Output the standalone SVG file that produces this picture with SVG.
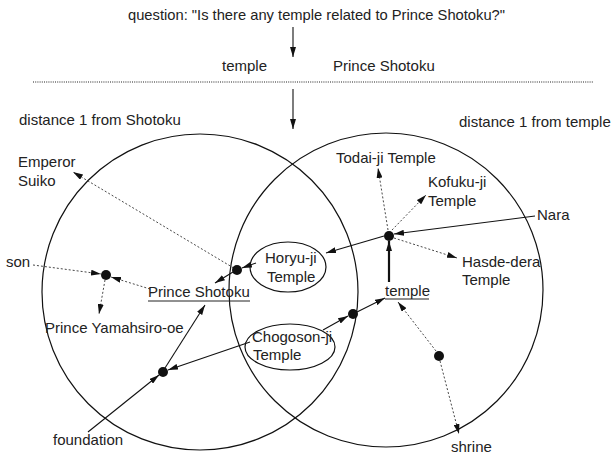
<svg xmlns="http://www.w3.org/2000/svg" width="613" height="456" viewBox="0 0 613 456">
<style>
text{font-family:"Liberation Sans",Arial,sans-serif;font-size:15px;fill:#222}
.c{fill:none;stroke:#111;stroke-width:1.2}
.s{fill:none;stroke:#111;stroke-width:1.1}
.d{fill:none;stroke:#333;stroke-width:0.9;stroke-dasharray:2,2}
.t{fill:none;stroke:#111;stroke-width:2.2}
.dot{fill:#111}
.u{stroke:#222;stroke-width:1}
</style>
<defs>
<marker id="a" viewBox="0 0 10 6" refX="10" refY="3" markerWidth="10" markerHeight="6" markerUnits="userSpaceOnUse" orient="auto"><path d="M0,0L10,3L0,6z" fill="#111"/></marker>
</defs>
<rect width="613" height="456" fill="#fff"/>
<g id="header">
<text x="128" y="20" textLength="377" lengthAdjust="spacingAndGlyphs">question: "Is there any temple related to Prince Shotoku?"</text>
<text x="222" y="71">temple</text>
<text x="333" y="71">Prince Shotoku</text>
<line x1="33" y1="82" x2="593" y2="82" stroke="#222" stroke-width="1.2" stroke-dasharray="1,1.2"/>
<text x="19" y="125">distance 1 from Shotoku</text>
<text x="459" y="127">distance 1 from temple</text>
</g>
<g id="circles">
<circle class="c" cx="200" cy="292" r="158"/>
<circle class="c" cx="386" cy="290" r="157"/>
</g>
<g id="connectors">
<line class="s" x1="293" y1="27" x2="293" y2="57" marker-end="url(#a)"/>
<line class="s" x1="293" y1="89" x2="293" y2="129" marker-end="url(#a)"/>
<line class="d" x1="237" y1="270" x2="73" y2="172" marker-end="url(#a)"/>
<line class="s" x1="256" y1="263" x2="242" y2="268" marker-end="url(#a)"/>
<line class="s" x1="233" y1="272" x2="215" y2="283" marker-end="url(#a)"/>
<line class="s" x1="535" y1="216" x2="394" y2="234" marker-end="url(#a)"/>
<line class="s" x1="384" y1="236" x2="326" y2="253" marker-end="url(#a)"/>
<line class="t" x1="389" y1="282" x2="389" y2="241" marker-end="url(#a)"/>
<line class="d" x1="388" y1="230" x2="378" y2="168" marker-end="url(#a)"/>
<line class="d" x1="392" y1="230" x2="426" y2="195" marker-end="url(#a)"/>
<line class="d" x1="394" y1="238" x2="457" y2="258" marker-end="url(#a)"/>
<line class="d" x1="33" y1="265" x2="101" y2="274" marker-end="url(#a)"/>
<line class="d" x1="150" y1="289" x2="111" y2="277" marker-end="url(#a)"/>
<line class="d" x1="105" y1="280" x2="99" y2="314" marker-end="url(#a)"/>
<line class="s" x1="165" y1="368" x2="205" y2="305" marker-end="url(#a)"/>
<line class="s" x1="250" y1="342" x2="168" y2="370" marker-end="url(#a)"/>
<line class="s" x1="88" y1="432" x2="159" y2="375" marker-end="url(#a)"/>
<line class="s" x1="323" y1="330" x2="348" y2="316" marker-end="url(#a)"/>
<line class="s" x1="357" y1="312" x2="385" y2="298" marker-end="url(#a)"/>
<line class="d" x1="436" y1="351" x2="398" y2="302" marker-end="url(#a)"/>
<line class="d" x1="440" y1="361" x2="459" y2="434" marker-end="url(#a)"/>
</g>
<g id="emperor-suiko">
<text x="18" y="167">Emperor</text>
<text x="18" y="186">Suiko</text>
</g>
<g id="horyu-dot"><circle class="dot" cx="237" cy="270" r="5"/></g>
<g id="horyu-ji">
<ellipse class="c" cx="288" cy="267" rx="38" ry="25"/>
<text x="265" y="263">Horyu-ji</text>
<text x="267" y="282">Temple</text>
</g>
<g id="prince-shotoku">
<text x="148" y="297">Prince Shotoku</text>
<line class="u" x1="148" y1="301" x2="250" y2="301"/>
</g>
<g id="nara-dot"><circle class="dot" cx="389" cy="236" r="5"/></g>
<g id="nara"><text x="537" y="220">Nara</text></g>
<g id="temple">
<text x="385" y="296">temple</text>
<line class="u" x1="385" y1="299" x2="429" y2="299"/>
</g>
<g id="todai-ji"><text x="336" y="163">Todai-ji Temple</text></g>
<g id="kofuku-ji">
<text x="428" y="187">Kofuku-ji</text>
<text x="428" y="206">Temple</text>
</g>
<g id="hasde-dera">
<text x="462" y="267">Hasde-dera</text>
<text x="462" y="285">Temple</text>
</g>
<g id="son"><text x="6" y="267">son</text></g>
<g id="son-dot"><circle class="dot" cx="106" cy="275" r="5"/></g>
<g id="prince-yamahsiro-oe"><text x="45" y="333">Prince Yamahsiro-oe</text></g>
<g id="foundation-dot"><circle class="dot" cx="163" cy="372" r="5"/></g>
<g id="foundation"><text x="53" y="445">foundation</text></g>
<g id="chogoson-ji">
<ellipse class="c" cx="290" cy="347" rx="45" ry="23"/>
<text x="252" y="342">Chogoson-ji</text>
<text x="253" y="360">Temple</text>
</g>
<g id="chogoson-dot"><circle class="dot" cx="353" cy="314" r="5"/></g>
<g id="shrine-dot"><circle class="dot" cx="439" cy="356" r="5"/></g>
<g id="shrine"><text x="451" y="452">shrine</text></g>
</svg>
